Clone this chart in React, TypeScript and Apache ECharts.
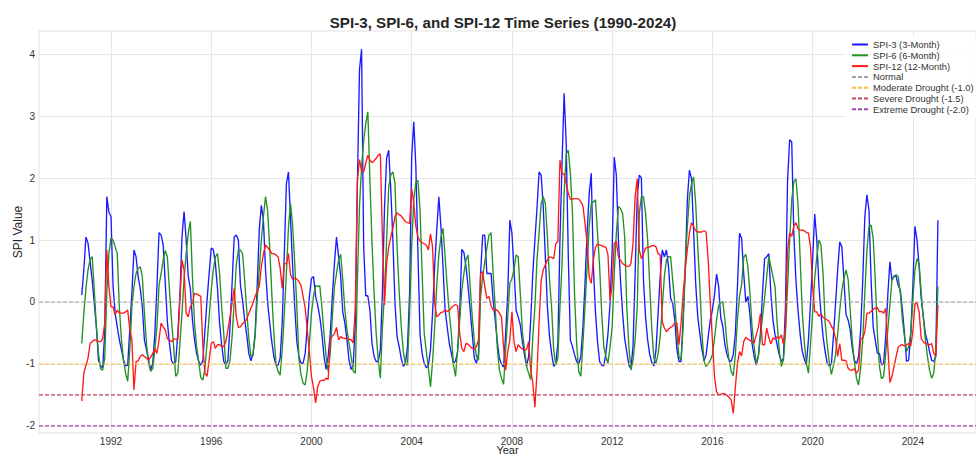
import React, { useEffect, useRef } from "react";
import * as echarts from "echarts";

// Monthly series, first value = November 1990
const START_YEAR = 1990;
const START_MONTH = 11;

const SPI3 = [
  0.11, 0.52, 1.05, 0.95, 0.65, 0.35, -0.02, -0.40, -0.94, -1.03, -1.06, -0.5, 1.70, 1.45, 1.38, 0.25, -0.18, -0.40, -0.61, -0.77, -0.94, -1.03, -1.02, -0.45, 0.14, 0.84, 0.73, 0.41, 0.22, -0.08, -0.61, -0.77, -0.94, -1.10, -0.99, -0.51, 0.25,
  1.12, 1.08, 0.92, 0.30, -0.32, -0.67, -0.95, -1.0, -0.96, -0.51, 0.09, 1.05, 1.46, 1.0, 0.41, 0.22, -0.29, -0.61, -0.83, -0.96, -1.02, -0.94, -0.45, 0.03, 0.46, 0.87, 0.85, 0.62, 0.22, -0.34, -0.69, -0.96, -1.02, -0.94, -0.40, 0.30, 1.05, 1.08,
  1.0, 0.27, 0.03, -0.29, -0.53, -0.83, -0.95, -0.85, -0.51, 0.25, 1.16, 1.56, 1.32, 0.52, 0.0, -0.34, -0.64, -0.88, -1.02, -1.02, -0.91, -0.34, 0.78, 1.91, 2.10, 1.32, 0.57, -0.08, -0.64, -0.88, -0.99, -0.99, -0.83, -0.40, 0.09, 0.38, 0.41, 0.09, -0.05,
  -0.24, -0.51, -0.88, -1.09, -0.88, -0.51, 0.09, 0.62, 1.05, 0.73, 0.41, -0.16, -0.34, -0.61, -0.94, -1.09, -1.02, -0.34, 1.9, 3.75, 4.08, 0.9, 0.1, 0.1, -0.13, -0.67, -0.88, -0.96, -0.96, -0.77, 0.19, 1.54, 2.32, 2.45, 1.81, 1.0, -0.02, -0.56,
  -0.72, -0.91, -1.04, -0.99, -0.72, 0.14, 2.34, 2.91, 2.18, 0.78, -0.53, -0.83, -0.99, -1.06, -1.03, -0.77, -0.18, 0.57, 1.16, 1.70, 1.22, 0.57, -0.13, -0.40, -0.67, -0.83, -0.99, -0.95, -0.80, -0.16, 0.85, 0.80, 0.57, 0.25, -0.13, -0.51, -0.91, -0.99,
  -0.83, 0.46, 1.08, 1.08, 0.46, 0.46, 0.46, 0.03, -0.29, -0.64, -0.91, -1.0, -1.05, -0.51, 0.14, 1.32, 1.11, 0.52, -0.13, -0.24, -0.37, -0.64, -0.85, -1.04, -0.88, -0.29, 0.46, 1.0, 1.51, 2.10, 2.05, 1.54, 0.73, -0.08, -0.56, -0.83, -1.04, -0.99, -0.67,
  1.0, 2.24, 3.37, 2.56, 0.73, -0.62, -0.72, -0.85, -0.96, -1.0, -0.88, -0.40, 0.30, 1.11, 1.75, 2.08, 0.57, -0.16, -0.64, -0.96, -1.02, -1.03, -0.83, -0.51, -0.02, 0.84, 2.34, 2.05, 1.0, 0.35, -0.18, -0.59, -0.80, -1.02, -1.07, -0.72, 0.46, 1.70,
  2.05, 2.0, 0.35, -0.24, -0.61, -0.85, -0.98, -1.03, -0.77, -0.18, 0.41, 0.84, 0.73, 0.84, 0.57, 0.06, -0.02, -0.29, -0.77, -0.96, -0.96, -0.24, 0.52, 1.65, 2.13, 1.99, 1.16, 0.30, -0.24, -0.51, -0.77, -0.95, -0.85, -0.56, -0.29, -0.13, 0.11, 0.45,
  0.25, -0.25, -0.40, -0.69, -0.85, -0.94, -0.96, -0.85, -0.51, 0.25, 1.11, 1.03, 0.46, 0.0, 0.09, -0.21, -0.67, -0.88, -1.02, -0.88, -0.51, 0.14, 0.70, 0.73, 0.78, 0.14, -0.29, -0.53, -0.69, -0.85, -0.96, -0.91, -0.08, 1.97, 2.62, 2.58, 1.11, 0.35, -0.13,
  -0.51, -0.79, -0.92, -1.01, -0.61, -0.02, 0.68, 1.42, 1.0, 0.27, -0.18, -0.56, -0.80, -0.99, -1.03, -1.0, -0.53, -0.02, 0.52, 0.97, 0.89, 0.35, -0.20, -0.29, -0.45, -0.75, -0.94, -1.0, -0.88, -0.45, 0.35, 1.38, 1.73, 1.48, 0.35, -0.40, -0.61, -0.83,
  -0.83, -1.02, -0.99, -0.56, 0.11, 0.65, 0.35, 0.42, 0.41, 0.27, 0.19, -0.13, -0.51, -0.96, -0.94, -0.51, 0.25, 1.22, 1.0, 0.57, 0.06, -0.24, -0.51, -0.64, -0.80, -0.94, -0.96, -0.88, 1.32,
];

const SPI6 = [
  -0.67, -0.18, 0.22, 0.52, 0.69, 0.73, 0.19, -0.40, -0.83, -1.08, -1.10, -0.91, 0.14, 0.78, 1.03, 1.0, 0.89, 0.78, -0.08, -0.61, -0.94, -1.15, -1.28, -0.77, -0.08, 0.25, 0.46, 0.54, 0.57, 0.41, -0.18, -0.67, -0.99, -1.12, -1.07, -0.77, -0.40,
  0.27, 0.46, 0.68, 0.83, 0.73, 0.19, -0.29, -0.72, -1.20, -1.15, -0.67, -0.18, 0.38, 0.78, 1.11, 1.30, 0.41, -0.34, -0.72, -0.96, -1.22, -1.26, -1.07, -0.67, -0.24, 0.19, 0.52, 0.73, 0.78, 0.46, -0.08, -0.51, -1.07, -1.07, -0.94, -0.56, 0.0, 0.6,
  0.84, 0.84, 0.78, 0.35, -0.13, -0.59, -0.88, -0.85, -0.56, 0.03, 0.52, 1.0, 1.38, 1.70, 1.48, 0.89, 0.14, -0.51, -0.99, -1.12, -1.18, -0.77, -0.18, 0.46, 1.22, 1.59, 1.22, 0.62, -0.08, -0.91, -1.18, -1.31, -1.34, -1.10, -0.67, -0.18, 0.10, 0.27, 0.25,
  0.26, -0.08, -0.51, -0.88, -1.12, -0.83, -0.24, 0.25, 0.46, 0.68, 0.77, 0.35, -0.13, -0.45, -0.67, -0.88, -1.12, -1.15, 0.35, 1.54, 2.18, 2.61, 2.88, 3.07, 1.97, 0.95, 0.14, -0.51, -0.94, -1.23, -0.40, 0.14, 1.0, 1.86, 2.05, 2.10, 1.91, 0.89,
  0.17, -0.40, -0.80, -1.0, -1.02, -0.18, 0.89, 1.65, 1.94, 1.96, 1.48, 0.46, -0.51, -0.80, -1.07, -1.37, -0.96, -0.40, 0.27, 0.76, 1.05, 1.19, 0.73, 0.25, -0.18, -0.51, -1.02, -1.20, -0.77, -0.29, 0.19, 0.46, 0.68, 0.76, 0.25, -0.24, -0.64, -0.88,
  -0.94, 0.09, 0.41, 0.65, 0.87, 1.08, 1.12, 0.46, -0.08, -0.75, -1.10, -1.23, -1.33, -0.77, -0.24, 0.30, 0.38, 0.52, 0.76, 0.73, 0.14, -0.48, -0.75, -1.04, -1.15, -1.25, -0.56, -0.08, 0.68, 1.11, 1.59, 1.70, 1.59, 1.05, 0.35, -0.08, -0.77, -1.02, -0.91,
  -0.08, 0.62, 1.75, 2.40, 2.45, 2.08, 1.43, 0.11, -0.67, -1.12, -1.20, -0.67, -0.08, 0.57, 1.22, 1.59, 1.61, 1.65, 1.11, 0.57, -0.18, -0.72, -0.88, -0.99, -0.72, -0.40, 0.46, 1.11, 1.54, 1.51, 1.43, 1.05, -0.08, -0.72, -1.10, -0.94, -0.61, -0.08,
  1.43, 1.70, 1.70, 1.43, 1.0, 0.27, -0.45, -0.91, -0.99, -0.83, -0.56, -0.08, 0.41, 0.68, 0.73, 0.73, 0.35, -0.02, -0.51, -0.88, -0.94, -0.40, 0.57, 1.22, 1.70, 1.91, 2.02, 1.59, 0.89, 0.25, -0.51, -0.96, -1.04, -1.0, -0.94, -0.85, -0.59, -0.29,
  -0.06, -0.01, 0.0, -0.29, -0.67, -0.94, -1.12, -1.19, -0.85, -0.29, 0.09, 0.28, 0.72, 0.77, 0.57, 0.14, -0.40, -0.72, -0.99, -0.88, -0.56, -0.24, 0.06, 0.41, 0.73, 0.57, 0.41, 0.25, -0.34, -0.77, -1.04, -0.94, -0.51, 0.25, 1.0, 1.65, 1.94, 1.99, 1.59,
  0.73, -0.13, -0.64, -0.99, -1.15, -0.67, -0.18, 0.38, 0.73, 1.0, 0.92, 0.46, -0.34, -0.69, -0.98, -1.17, -1.02, -0.85, -0.51, -0.13, 0.19, 0.38, 0.52, 0.37, -0.13, -0.64, -0.96, -1.23, -1.34, -1.07, -0.61, 0.14, 0.84, 1.22, 1.24, 1.03, 0.35, -0.5,
  -1.04, -1.24, -1.20, -0.83, -0.45, -0.05, 0.35, 0.42, 0.44, 0.41, 0.14, -0.29, -0.56, -0.80, -0.72, -0.51, 0.03, 0.52, 0.70, 0.62, 0.14, -0.24, -0.61, -0.88, -1.10, -1.23, -1.15, -0.77, 0.25,
];

const SPI12 = [
  -1.6, -1.15, -1.02, -0.91, -0.67, -0.64, -0.61, -0.62, -0.64, -0.64, -0.59, -0.34, 0.84, 0.25, -0.08, -0.08, -0.21, -0.13, -0.18, -0.18, -0.18, -0.16, -0.13, -0.44, -0.61, -1.42, -0.96, -0.95, -0.88, -0.85, -0.88, -0.91, -0.94, -0.89, -0.83, -0.75, -0.83,
  -0.61, -0.34, -0.40, -0.45, -0.59, -0.62, -0.64, -0.60, -0.60, -0.61, 0.03, 0.68, 0.52, -0.18, -0.24, -0.08, -0.02, 0.14, 0.13, 0.11, 0.09, -0.72, -1.15, -1.20, -0.94, -0.67, -0.64, -0.75, -0.69, -0.69, -0.72, -0.72, -0.64, -0.45, -0.24, -0.02, 0.22, -0.24,
  -0.41, -0.40, -0.35, -0.32, -0.28, -0.18, -0.10, -0.02, 0.09, 0.17, 0.25, 0.57, 0.78, 0.92, 0.88, 0.84, 0.78, 0.78, 0.76, 0.73, 0.55, 0.22, 0.62, 0.62, 0.78, 0.44, 0.37, 0.38, 0.37, 0.33, 0.27, 0.09, -0.10, -0.45, -0.80, -1.20, -1.39, -1.63, -1.37,
  -1.28, -1.26, -1.27, -1.23, -1.25, -0.6, -0.55, -0.51, -0.41, -0.61, -0.56, -0.58, -0.59, -0.59, -0.60, -0.61, -0.66, -0.1, 1.97, 2.30, 2.12, 2.10, 2.24, 2.37, 2.29, 2.25, 2.28, 2.32, 2.37, 2.39, 1.0, -0.05, 0.62, 0.89, 1.05, 1.19, 1.38, 1.44,
  1.41, 1.39, 1.34, 1.30, 1.28, 1.27, 1.83, 1.59, 1.22, 1.05, 0.98, 0.96, 0.94, 0.92, 0.84, 1.10, 0.89, -0.02, -0.24, -0.21, -0.17, -0.16, -0.13, -0.15, -0.14, -0.09, -0.06, -0.04, -0.06, -0.51, -0.75, -0.80, -0.67, -0.68, -0.72, -0.75, -0.76, -0.72,
  -0.61, 0.46, 0.49, 0.25, 0.06, 0.09, -0.06, -0.13, -0.13, -0.13, -0.18, -0.24, -0.72, -1.10, -0.80, -0.61, -0.16, -0.64, -0.80, -0.69, -0.73, -0.76, -0.77, -0.77, -0.64, -1.10, -1.31, -1.70, -1.15, -0.34, 0.35, 0.52, 0.60, 0.68, 0.73, 0.72, 0.70, 0.94, 0.98,
  2.29, 2.08, 2.06, 1.91, 1.75, 1.66, 1.66, 1.67, 1.67, 1.66, 1.62, 1.55, 1.27, 0.95, 0.41, 0.30, 0.68, 0.88, 0.94, 0.92, 0.91, 0.89, 0.89, 0.76, 0.03, 0.25, 0.95, 0.98, 0.73, 0.67, 0.62, 0.60, 0.58, 0.57, 0.62, 0.95, 1.70, 1.99,
  0.84, 0.70, 0.78, 0.87, 0.88, 0.89, 0.91, 0.91, 0.89, 0.78, 0.76, -0.32, -0.42, -0.48, -0.44, -0.41, -0.39, -0.34, -0.34, -0.69, -0.34, 0.14, 0.52, 0.84, 1.11, 1.28, 1.22, 1.15, 1.13, 1.13, 1.13, 1.15, 1.13, 0.68, -0.02, -0.61, -1.20, -1.45,
  -1.50, -1.49, -1.48, -1.48, -1.51, -1.54, -1.58, -1.80, -1.37, -0.99, -0.80, -0.87, -0.64, -0.57, -0.60, -0.62, -0.64, -0.66, -0.53, -0.41, -0.19, -0.69, -0.69, -0.42, -0.57, -0.68, -0.58, -0.60, -0.56, -0.59, -0.53, -0.68, -0.40, 0.84, 1.11, 1.06, 1.23, 1.28, 1.18,
  1.16, 1.16, 1.15, 1.12, 1.11, 0.89, 0.25, -0.16, -0.16, -0.23, -0.19, -0.25, -0.27, -0.29, -0.32, -0.39, -0.45, -0.59, -0.88, -0.67, -0.94, -0.94, -0.95, -1.07, -1.10, -1.10, -1.08, -1.15, -1.10, -0.60, -0.58, -0.48, -0.18, -0.18, -0.15, -0.12, -0.10, -0.09,
  -0.16, -0.15, -0.18, -0.10, -0.72, -1.30, -1.20, -1.04, -0.88, -0.73, -0.70, -0.69, -0.71, -0.69, -0.67, -0.71, -0.48, -0.03, -0.02, -0.16, -0.59, -0.64, -0.67, -0.68, -0.69, -0.67, -0.83, -0.87, -0.05,
];

const SERIES_NAMES = ["SPI-3 (3-Month)", "SPI-6 (6-Month)", "SPI-12 (12-Month)"];
const THRESHOLD_NAMES = ["Normal", "Moderate Drought (-1.0)", "Severe Drought (-1.5)", "Extreme Drought (-2.0)"];
const THRESHOLD_VALUES = [0, -1.0, -1.5, -2.0];
const X_TICKS = [1992, 1996, 2000, 2004, 2008, 2012, 2016, 2020, 2024];
const Y_TICKS = [-2, -1, 0, 1, 2, 3, 4];

const X_MIN = 1989.127;
const X_MAX = 2026.52;
const Y_MIN = -2.115;
const Y_MAX = 4.375;

const FONT = "'Liberation Sans', Arial, 'DejaVu Sans', sans-serif";
const LINE_COLORS = ["#1a1aff", "#229222", "#ff1a1a"];
const THRESHOLD_COLORS = ["#a0a0a0", "#ffbf40", "#c0445a", "#a545b0"];

const xOf = (i: number) => START_YEAR + (START_MONTH - 1 + i) / 12;

export default function App() {
  const ref = useRef<HTMLDivElement>(null);

  useEffect(() => {
    if (!ref.current) return;
    const chart = echarts.init(ref.current, undefined, { renderer: "svg" });

    const spiData = [SPI3, SPI6, SPI12];

    const dataSeries = spiData.map((arr, k) => ({
      name: SERIES_NAMES[k],
      type: "line",
      data: arr.map((v, i) => [xOf(i), v]),
      showSymbol: false,
      symbol: "none",
      lineStyle: { color: LINE_COLORS[k], width: 1.35 },
      itemStyle: { color: LINE_COLORS[k] },
      z: 3,
    }));

    const thresholdSeries = THRESHOLD_VALUES.map((v, k) => ({
      name: THRESHOLD_NAMES[k],
      type: "line",
      data: [
        [X_MIN, v],
        [X_MAX, v],
      ],
      showSymbol: false,
      symbol: "none",
      lineStyle: { color: THRESHOLD_COLORS[k], width: 1.1, type: [4, 2] },
      itemStyle: { color: THRESHOLD_COLORS[k] },
      z: 4,
    }));

    const gridSeries = {
      name: "_grid",
      type: "line",
      data: [],
      silent: true,
      z: 1,
      markLine: {
        silent: true,
        z: 1,
        symbol: ["none", "none"],
        label: { show: false },
        lineStyle: { color: "#e6e6e6", type: "solid", width: 1 },
        emphasis: { disabled: true },
        data: [
          ...X_TICKS.map((v) => ({ xAxis: v })),
          ...Y_TICKS.map((v) => ({ yAxis: v })),
        ],
      },
    };

    chart.setOption({
      animation: false,
      textStyle: { fontFamily: FONT },
      title: {
        text: "SPI-3, SPI-6, and SPI-12 Time Series (1990-2024)",
        left: 498,
        top: 10,
        textAlign: "center",
        textStyle: { fontSize: 15.2, fontWeight: "bold", color: "#262626", fontFamily: FONT },
      },
      legend: {
        orient: "vertical",
        left: 845,
        top: 36,
        padding: [4, 6, 4, 6],
        itemWidth: 16,
        itemHeight: 9,
        itemGap: 1.8,
        itemStyle: { opacity: 0 },
        backgroundColor: "rgba(255,255,255,0.8)",
        data: [...SERIES_NAMES, ...THRESHOLD_NAMES],
        textStyle: { fontSize: 9.4, color: "#333", fontFamily: FONT },
      },
      grid: {
        left: 39,
        right: 0,
        top: 31,
        bottom: 23,
        containLabel: false,
        outerBoundsMode: "none",
        show: true,
        borderColor: "#e3e3e3",
        borderWidth: 1,
      },
      xAxis: {
        type: "value",
        min: X_MIN,
        max: X_MAX,
        name: "Year",
        nameLocation: "middle",
        nameGap: 11.5,
        nameMoveOverlap: false,
        nameTextStyle: { fontSize: 11, color: "#262626", fontFamily: FONT },
        axisLine: { show: false },
        axisTick: { show: false },
        splitLine: { show: false },
        axisLabel: {
          customValues: X_TICKS,
          formatter: (v: number) => String(Math.round(v)),
          fontSize: 10,
          color: "#333",
          margin: 3,
          fontFamily: FONT,
        },
      },
      yAxis: {
        type: "value",
        min: Y_MIN,
        max: Y_MAX,
        name: "SPI Value",
        nameLocation: "middle",
        nameGap: 15,
        nameMoveOverlap: false,
        nameTextStyle: { fontSize: 12, color: "#262626", fontFamily: FONT },
        axisLine: { show: false },
        axisTick: { show: false },
        splitLine: { show: false },
        axisLabel: {
          customValues: Y_TICKS,
          formatter: (v: number) => String(Math.round(v)),
          fontSize: 10,
          color: "#333",
          margin: 4,
          fontFamily: FONT,
        },
      },
      series: [gridSeries, ...dataSeries, ...thresholdSeries],
    });

    return () => chart.dispose();
  }, []);

  return (
    <div
      ref={ref}
      style={{ position: "fixed", left: 0, top: 0, width: 976, height: 456, background: "#fff" }}
    />
  );
}
